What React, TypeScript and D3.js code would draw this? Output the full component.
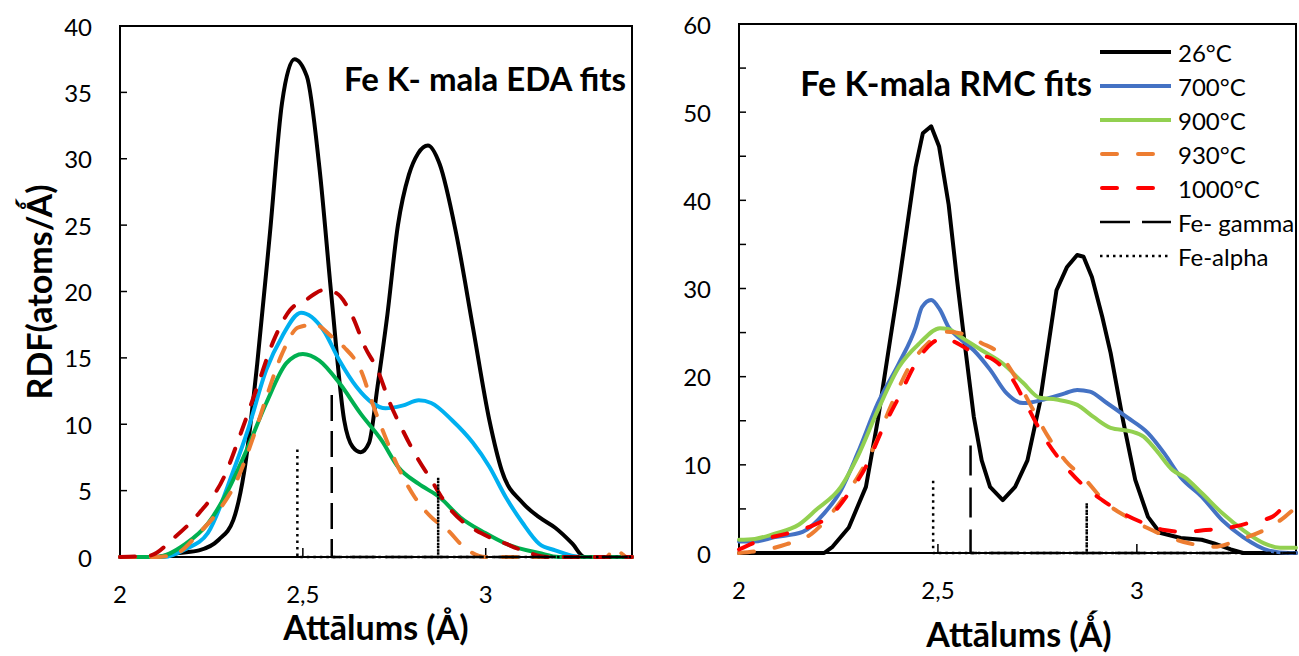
import React from 'react';
import * as d3 from 'd3';

type Pt = [number, number];

// ---- data ----
const xTicks = [2, 2.5, 3];
const edaYTicks = [0, 5, 10, 15, 20, 25, 30, 35, 40];
const rmcYTicks = [0, 10, 20, 30, 40, 50, 60];
const rmcYMinor = [5, 15, 25, 35, 45, 55];
const seriesNames = ['26°C', '700°C', '900°C', '930°C', '1000°C', 'Fe- gamma', 'Fe-alpha'];

// left panel: EDA fits
const eda26C: Pt[] = [[2.0,0],[2.10,0],[2.16,0.3],[2.216,0.5],[2.27,1.3],[2.31,2.8],[2.34,6.5],[2.375,14.5],[2.41,24.4],[2.443,34.2],[2.477,37.5],[2.511,36.2],[2.545,29.4],[2.579,19.4],[2.613,10.3],[2.636,8.3],[2.658,7.9],[2.681,8.6],[2.704,12.8],[2.73,18.0],[2.76,25.0],[2.79,28.8],[2.815,30.4],[2.842,31.0],[2.874,29.6],[2.919,24.4],[2.965,17.3],[3.01,10.3],[3.044,6.5],[3.10,4.1],[3.146,3.0],[3.19,2.2],[3.237,1.0],[3.27,0],[3.4,0]];
const eda700: Pt[] = [[2.0,0],[2.12,0],[2.18,0.6],[2.24,1.8],[2.31,6.5],[2.35,9.6],[2.40,14.1],[2.443,16.6],[2.495,18.4],[2.556,17.1],[2.60,14.8],[2.647,12.8],[2.69,11.6],[2.726,11.2],[2.772,11.4],[2.817,11.8],[2.851,11.6],[2.908,10.3],[2.965,8.6],[3.01,6.8],[3.055,4.5],[3.10,2.6],[3.146,1.0],[3.19,0.5],[3.26,0],[3.4,0]];
const eda900: Pt[] = [[2.0,0],[2.10,0],[2.18,1.0],[2.24,2.5],[2.295,5.0],[2.35,8.3],[2.40,11.6],[2.455,14.6],[2.50,15.3],[2.545,14.8],[2.60,13.1],[2.658,10.8],[2.715,8.8],[2.76,6.8],[2.817,5.5],[2.874,4.5],[2.93,3.0],[2.999,1.8],[3.055,1.0],[3.146,0.3],[3.2,0],[3.4,0]];
const eda930: Pt[] = [[2.0,0],[2.10,0],[2.15,0.2],[2.216,1.8],[2.27,3.5],[2.32,5.8],[2.364,9.0],[2.40,12.0],[2.443,15.3],[2.488,17.3],[2.533,17.5],[2.579,16.6],[2.613,15.8],[2.658,14.1],[2.69,11.6],[2.726,9.0],[2.76,6.8],[2.806,4.5],[2.851,3.0],[2.897,2.0],[2.94,0.75],[3.0,0],[3.33,0],[3.35,0.6],[3.37,0.3],[3.385,0],[3.4,0]];
const eda1000: Pt[] = [[2.0,0],[2.08,0.1],[2.15,1.5],[2.216,3.3],[2.284,6.0],[2.33,9.3],[2.375,12.8],[2.42,16.3],[2.465,18.6],[2.51,19.4],[2.556,20.1],[2.59,19.9],[2.636,18.1],[2.67,15.8],[2.704,14.1],[2.738,11.6],[2.772,9.6],[2.806,7.8],[2.851,5.8],[2.897,3.8],[2.94,2.6],[2.987,1.8],[3.055,1.0],[3.10,0.5],[3.17,0],[3.4,0]];
const edaGamma: Pt[] = [[2.579,12.2],[2.579,0],[3.4,0]];
const edaAlpha: Pt[] = [[2.485,8.1],[2.485,0],[2.87,0],[2.87,6.0],[2.87,0],[3.4,0]];

// right panel: RMC fits
const rmc26C: Pt[] = [[2.0,0],[2.214,0],[2.235,0.7],[2.276,2.9],[2.319,7.5],[2.349,15.1],[2.381,24.5],[2.402,30.6],[2.444,43.8],[2.462,47.6],[2.483,48.4],[2.503,46.1],[2.527,39.5],[2.548,31.0],[2.568,23.5],[2.59,15.5],[2.61,10.5],[2.631,7.5],[2.663,6.0],[2.694,7.5],[2.725,10.5],[2.756,17.0],[2.798,29.8],[2.824,32.4],[2.85,33.8],[2.866,33.6],[2.887,31.3],[2.913,26.8],[2.934,22.7],[2.965,15.1],[2.996,8.3],[3.028,4.1],[3.058,2.3],[3.11,1.7],[3.163,1.5],[3.194,1.1],[3.236,0.4],[3.267,0],[3.4,0]];
const rmc700: Pt[] = [[2.0,1.3],[2.037,1.3],[2.09,1.8],[2.16,2.4],[2.214,4.5],[2.256,7.1],[2.298,11.3],[2.349,17.0],[2.402,21.5],[2.444,25.6],[2.46,27.9],[2.483,28.7],[2.505,27.6],[2.527,25.6],[2.558,24.2],[2.59,23.0],[2.631,20.8],[2.673,18.1],[2.714,17.0],[2.766,17.4],[2.819,18.1],[2.85,18.5],[2.882,18.3],[2.922,17.1],[2.975,15.4],[3.028,13.6],[3.069,11.3],[3.11,8.6],[3.163,6.4],[3.215,3.7],[3.267,1.8],[3.33,0.3],[3.382,0],[3.4,0]];
const rmc900: Pt[] = [[2.0,1.5],[2.04,1.6],[2.09,2.2],[2.15,3.2],[2.194,4.9],[2.256,7.5],[2.298,10.9],[2.349,16.2],[2.402,21.1],[2.454,23.8],[2.505,25.5],[2.525,25.4],[2.568,24.2],[2.61,23.0],[2.663,21.5],[2.714,19.3],[2.756,17.6],[2.798,17.4],[2.85,16.8],[2.892,15.4],[2.934,14.2],[2.985,13.8],[3.017,13.2],[3.048,11.7],[3.09,9.4],[3.12,8.6],[3.163,6.8],[3.215,4.5],[3.267,2.6],[3.32,1.1],[3.36,0.6],[3.4,0.6]];
const rmc930: Pt[] = [[2.0,0],[2.058,0.3],[2.12,1.0],[2.183,2.2],[2.245,5.2],[2.298,8.6],[2.34,12.1],[2.381,16.6],[2.433,21.5],[2.475,23.8],[2.517,25.1],[2.558,24.9],[2.61,23.8],[2.652,22.7],[2.694,20.0],[2.735,16.6],[2.777,13.2],[2.82,10.5],[2.871,8.3],[2.922,5.7],[2.975,4.1],[3.028,2.8],[3.08,1.8],[3.131,1.1],[3.194,0.7],[3.256,1.5],[3.32,2.6],[3.372,4.1],[3.4,5.2]];
const rmc1000: Pt[] = [[2.0,0.4],[2.058,1.5],[2.12,2.2],[2.173,2.9],[2.236,4.5],[2.276,6.8],[2.319,9.8],[2.36,14.0],[2.402,17.7],[2.444,21.5],[2.485,23.8],[2.517,24.4],[2.548,23.8],[2.59,22.7],[2.64,21.9],[2.683,20.0],[2.725,16.6],[2.766,13.2],[2.808,10.5],[2.86,7.9],[2.913,6.0],[2.965,4.5],[3.017,3.4],[3.069,2.6],[3.12,2.4],[3.173,2.6],[3.236,2.9],[3.289,3.5],[3.34,4.1],[3.382,5.7],[3.4,6.0]];
const rmcGamma: Pt[] = [[2.582,12.2],[2.582,0],[3.4,0]];
const rmcAlpha: Pt[] = [[2.488,8.2],[2.488,0],[2.874,0],[2.874,5.7],[2.874,0],[3.4,0]];

const FONT = 'Lato, Carlito, Calibri, sans-serif';

type Style = { color: string; width: number; dash?: string; cap?: 'round' | 'butt' };

const edaStyles: Style[] = [
  { color: '#000000', width: 4 },
  { color: '#00B0F0', width: 4 },
  { color: '#00B050', width: 4 },
  { color: '#ED7D31', width: 4, dash: '15,16', cap: 'round' },
  { color: '#C00000', width: 4, dash: '15,16', cap: 'round' },
  { color: '#000000', width: 2.5, dash: '26,10', cap: 'butt' },
  { color: '#000000', width: 2.5, dash: '2.5,4', cap: 'butt' },
];
const rmcStyles: Style[] = [
  { color: '#000000', width: 4 },
  { color: '#4472C4', width: 4 },
  { color: '#92D050', width: 4 },
  { color: '#ED7D31', width: 4, dash: '15,21', cap: 'round' },
  { color: '#FF0000', width: 4, dash: '15,21', cap: 'round' },
  { color: '#000000', width: 2.5, dash: '30,12', cap: 'butt' },
  { color: '#000000', width: 2.5, dash: '2.5,4', cap: 'butt' },
];

const fmt = (v: number) => String(v).replace('.', ',');

type PanelProps = {
  left: number; right: number; top: number; bottom: number;
  yMax: number; yTicks: number[]; yMinor?: number[];
  data: Pt[][]; styles: Style[]; linearFirst?: boolean;
  title: string; titleEnd: number; titleBase: number; titleSize: number;
  xTitle: string; xTitleX: number; xTitleBase: number;
  legend?: boolean;
};

function Panel(p: PanelProps) {
  const x = d3.scaleLinear().domain([2, 3.4]).range([p.left, p.right]);
  const y = d3.scaleLinear().domain([0, p.yMax]).range([p.bottom, p.top]);
  const smooth = d3.line<Pt>().x(d => x(d[0])).y(d => y(d[1])).curve(d3.curveMonotoneX);
  const straight = d3.line<Pt>().x(d => x(d[0])).y(d => y(d[1]));

  return (
    <g>
      {/* frame */}
      <path d={`M${p.left},${p.bottom}V${p.top}H${p.right}V${p.bottom}`} fill="none" stroke="#000" strokeWidth={2} />
      <line x1={p.left} x2={p.right} y1={p.bottom} y2={p.bottom} stroke="#000" strokeWidth={2} />
      {p.yTicks.concat(p.yMinor || []).map(t => (
        <line key={'yt' + t} x1={p.left} x2={p.left + 7} y1={y(t)} y2={y(t)} stroke="#000" strokeWidth={1.5} />
      ))}
      {xTicks.slice(1).map(t => (
        <line key={'xt' + t} x1={x(t)} x2={x(t)} y1={p.bottom} y2={p.bottom - 9} stroke="#000" strokeWidth={1.5} />
      ))}
      {p.yTicks.map(t => (
        <text key={'yl' + t} x={p.left - 28} y={y(t)} textAnchor="end" dominantBaseline="central"
          fontFamily={FONT} fontSize={24}>{t}</text>
      ))}
      {xTicks.map(t => (
        <text key={'xl' + t} x={x(t)} y={p.bottom + 46} textAnchor="middle"
          fontFamily={FONT} fontSize={24}>{fmt(t)}</text>
      ))}

      {/* series */}
      {p.data.map((d, i) => {
        const s = p.styles[i];
        const gen = (i >= 5 || (p.linearFirst && i === 0)) ? straight : smooth;
        return (
          <path key={'s' + i} d={gen(d) || ''} fill="none" stroke={s.color} strokeWidth={s.width}
            strokeDasharray={s.dash} strokeLinecap={s.cap || 'round'} strokeLinejoin="round" />
        );
      })}

      <text x={p.titleEnd} y={p.titleBase} textAnchor="end" fontFamily={FONT} fontWeight="bold" fontSize={p.titleSize}>{p.title}</text>
      <text x={p.xTitleX} y={p.xTitleBase} textAnchor="middle" fontFamily={FONT} fontWeight="bold" fontSize={34}>{p.xTitle}</text>

      {p.legend && seriesNames.map((n, i) => {
        const s = p.styles[i];
        const ly = 52 + i * 34;
        const x1 = s.dash && s.cap === 'round' ? 1102 : 1100;
        return (
          <g key={'lg' + i}>
            <line x1={x1} x2={1171} y1={ly} y2={ly} stroke={s.color} strokeWidth={s.width}
              strokeDasharray={s.dash} strokeLinecap={s.cap || 'butt'} />
            <text x={1178} y={ly} dominantBaseline="central" fontFamily={FONT} fontSize={24}>{n}</text>
          </g>
        );
      })}
    </g>
  );
}

export default function App() {
  return (
    <svg width={1299} height={656} style={{ position: 'absolute', left: 0, top: 0, background: '#fff' }}>
      <Panel left={120} right={632} top={26} bottom={557} yMax={40} yTicks={edaYTicks}
        data={[eda26C, eda700, eda900, eda930, eda1000, edaGamma, edaAlpha]} styles={edaStyles}
        title="Fe K- mala EDA fits" titleEnd={626} titleBase={91} titleSize={33}
        xTitle="Attālums (Å)" xTitleX={376} xTitleBase={640} />
      <text transform="translate(52,292) rotate(-90)" textAnchor="middle" fontFamily={FONT}
        fontWeight="bold" fontSize={34}>RDF(atoms/Ǻ)</text>
      <Panel left={739} right={1296} top={24} bottom={553} yMax={60} yTicks={rmcYTicks} yMinor={rmcYMinor}
        data={[rmc26C, rmc700, rmc900, rmc930, rmc1000, rmcGamma, rmcAlpha]} styles={rmcStyles} linearFirst
        title="Fe K-mala RMC fits" titleEnd={1092} titleBase={96} titleSize={34}
        xTitle="Attālums (Ǻ)" xTitleX={1019} xTitleBase={647} legend />
    </svg>
  );
}
